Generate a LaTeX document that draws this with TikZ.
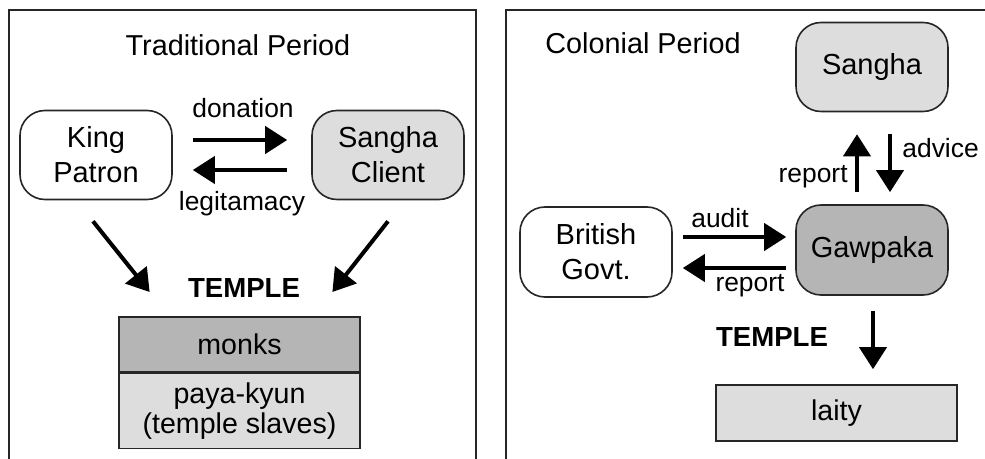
\documentclass[tikz,border=0pt]{standalone}
\usepackage{fontspec}
\setmainfont{Liberation Sans}
\usetikzlibrary{arrows.meta,calc}
\definecolor{paleGray}{RGB}{220,221,220}
\definecolor{midGray}{RGB}{181,181,181}
\begin{document}
\begin{tikzpicture}[x=0.5pt,y=-0.5pt,
  panel/.style={draw=black!85, line width=1.25pt},
  actor/.style={draw=black!85, line width=0.8pt, rounded corners=12.5pt,
    minimum width=76pt, minimum height=44.5pt, inner sep=0pt, align=center,
    font=\fontsize{14.5}{17.5}\selectfont},
  layer/.style={draw=black!85, line width=0.8pt, minimum width=120.5pt,
    inner sep=0pt, align=center, font=\fontsize{14.3}{15}\selectfont},
  flow/.style={line width=2pt, -{Triangle[length=11pt,width=13.5pt]}},
  lbl/.style={font=\fontsize{13.2}{15}\selectfont, inner sep=0pt},
  head/.style={font=\fontsize{14.4}{17}\selectfont, inner sep=0pt},
  tmpl/.style={font=\bfseries\fontsize{13.8}{16}\selectfont, inner sep=0pt}]
\useasboundingbox (0,0) rectangle (985,459);
\clip (0,0) rectangle (985,459);

% panel frames (open at the lower and right page edges)
\draw[panel] (9,10) rectangle (476,480);
\draw[panel] (506,10) rectangle (1010,480);

% ---- traditional period ----
\node[head] (t1) at (238,45) {Traditional Period};
\node[actor, fill=white] (king) at (96,155) {King\\Patron};
\node[actor, fill=paleGray] (sc) at (388,155) {Sangha\\Client};
\draw[flow] ($(king.east)+(20,-15)$) -- ($(sc.west)+(-24,-15)$);
\draw[flow] ($(sc.west)+(-24,15)$) -- ($(king.east)+(20,15)$);
\node[lbl] (don) at (243,108) {donation};
\node[lbl] (leg) at (242,204) {legitamacy};

\node[tmpl] (temple1) at (244,288) {TEMPLE};
\node[layer, fill=midGray, minimum height=27.5pt] (monks) at (239.5,344.5) {monks};
\node[layer, fill=paleGray, minimum height=37.5pt, anchor=north] (slaves)
  at (monks.south) {paya-kyun\\(temple slaves)};
\draw[flow] ($(king.south)+(-3,21)$) -- ($(temple1.west)+(-38,4)$);
\draw[flow] ($(sc.south)+(0,21)$) -- ($(temple1.east)+(32,4)$);

% ---- colonial period ----
\node[head, anchor=west] (t2) at (545,43) {Colonial Period};
\node[actor, fill=paleGray] (sangha) at (872,67) {Sangha};
\node[actor, fill=midGray, minimum height=45pt] (gaw) at (872,250) {Gawpaka};
\node[actor, fill=white, minimum height=45pt] (brit) at (596,252) {British\\Govt.};

\draw[flow] ($(gaw.north)+(-15,-12)$) -- ($(sangha.south)+(-15,22)$);
\draw[flow] ($(sangha.south)+(18,22)$) -- ($(gaw.north)+(18,-12)$);
\node[lbl, anchor=west] (adv) at (902,148) {advice};
\node[lbl, anchor=east] (rep1) at (848,177) {report};

\draw[flow] ($(brit.east)+(10,-15)$) -- ($(gaw.west)+(-9,-13)$);
\draw[flow] ($(gaw.west)+(-9,18)$) -- ($(brit.east)+(10,16)$);
\node[lbl] (aud) at (720,218) {audit};
\node[lbl] (rep2) at (750,286) {report};

\node[tmpl] (temple2) at (772,337) {TEMPLE};
\node[layer, fill=paleGray, minimum height=28pt] (laity) at (836.5,413) {laity};
\draw[flow] ($(gaw.south)+(1,15)$) -- ($(laity.north)+(36.5,-15)$);
\end{tikzpicture}
\end{document}
